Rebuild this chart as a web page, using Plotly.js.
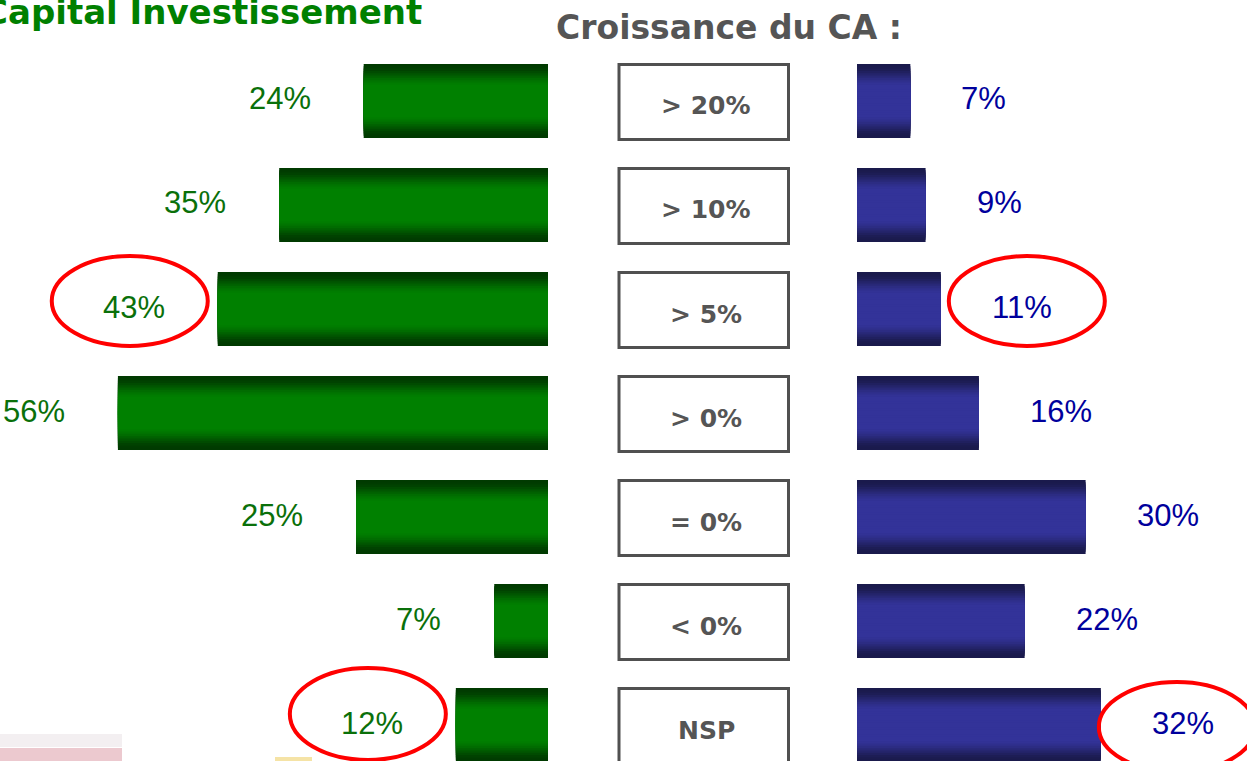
<!DOCTYPE html>
<html>
<head>
<meta charset="utf-8">
<script src="https://cdn.plot.ly/plotly-3.0.1.min.js"></script>
<style>
  html, body { margin: 0; padding: 0; background: #ffffff; overflow: hidden; }
  #chart { width: 1247px; height: 761px; }
</style>
</head>
<body>
<div id="chart"></div>
<script>
// ---- data ----
const categories = ['> 20%', '> 10%', '> 5%', '> 0%', '= 0%', '< 0%', 'NSP'];
const capitalInvestissement = [24, 35, 43, 56, 25, 7, 12];
const rightSeries = [7, 9, 11, 16, 30, 22, 32];
const leftLabels = capitalInvestissement.map(v => v + '%');
const rightLabels = rightSeries.map(v => v + '%');
const circledLeft = ['> 5%', 'NSP'];
const circledRight = ['> 5%', 'NSP'];
const chartTitle = 'Croissance du CA :';
const sideTitle = 'Capital Investissement';

// ---- styling ----
const W = 1247, H = 761;
const BAR_W = 0.712;
const LAYERS = 16;
function hex(c) { return [parseInt(c.slice(1,3),16), parseInt(c.slice(3,5),16), parseInt(c.slice(5,7),16)]; }
function mix(a, b, t) {
  const A = hex(a), B = hex(b);
  return 'rgb(' + A.map((v, i) => Math.round(v + (B[i] - v) * t)).join(',') + ')';
}
function smooth(t) { t = Math.max(0, Math.min(1, t)); return t * t * (3 - 2 * t); }

const traces = [];
function addGradientBars(values, xaxis, edge, center) {
  for (let k = 0; k < LAYERS; k++) {
    const frac = k / LAYERS;                // 0 = outer layer
    const w = BAR_W * (1 - frac);
    const t = smooth(frac / 0.58);
    traces.push({
      type: 'bar', orientation: 'h',
      x: values, y: categories,
      xaxis: xaxis, yaxis: 'y',
      width: values.map(() => w),
      marker: { color: mix(edge, center, t), line: { width: 0 } },
      hoverinfo: 'skip', showlegend: false
    });
  }
}
addGradientBars(capitalInvestissement, 'x', '#003a00', '#008000');
addGradientBars(rightSeries, 'x2', '#1a1a4c', '#333399');

function esc(s) { return s.replace(/&/g, '&amp;').replace(/</g, '&lt;').replace(/>/g, '&gt;'); }

const annotations = [];
const labelFont = 'Liberation Sans, Arial, sans-serif';
categories.forEach((c, i) => {
  annotations.push({
    x: capitalInvestissement[i], y: c, xref: 'x', yref: 'y',
    text: leftLabels[i], showarrow: false, xanchor: 'right', yanchor: 'middle',
    xshift: -51, yshift: 2,
    font: { family: labelFont, size: 31, color: '#0a700a' }
  });
  annotations.push({
    x: rightSeries[i], y: c, xref: 'x2', yref: 'y',
    text: rightLabels[i], showarrow: false, xanchor: 'left', yanchor: 'middle',
    xshift: 49, yshift: 2,
    font: { family: labelFont, size: 31, color: '#00009c' }
  });
  annotations.push({
    x: 706 / W, y: c, xref: 'paper', yref: 'y',
    text: '<b>' + esc(c) + '</b>', showarrow: false, xanchor: 'center', yanchor: 'middle',
    yshift: -5,
    font: { family: 'DejaVu Sans, Verdana, sans-serif', size: 25, color: '#555555' }
  });
});
annotations.push({
  x: 728.5 / W, y: 1 - 27 / H, xref: 'paper', yref: 'paper',
  text: '<b>' + chartTitle + '</b>', showarrow: false, xanchor: 'center', yanchor: 'middle',
  font: { family: 'DejaVu Sans, Verdana, sans-serif', size: 33, color: '#555555' }
});
annotations.push({
  x: -19 / W, y: 1 - 12 / H, xref: 'paper', yref: 'paper',
  text: '<b>' + sideTitle + '</b>', showarrow: false, xanchor: 'left', yanchor: 'middle',
  font: { family: 'DejaVu Sans, Verdana, sans-serif', size: 34, color: '#008000' }
});

const shapes = [];
// label boxes in the middle column
categories.forEach(c => {
  shapes.push({
    type: 'rect', xref: 'paper', yref: 'y', ysizemode: 'pixel', yanchor: c,
    x0: 619 / W, x1: 788.5 / W, y0: -38.5, y1: 36.5,
    line: { color: '#505050', width: 3 }, fillcolor: 'rgba(0,0,0,0)'
  });
});
// red ellipses around highlighted labels
const ellipseStyle = { color: '#ff0000', width: 4 };
circledLeft.forEach(c => {
  const i = categories.indexOf(c);
  const last = i === categories.length - 1;
  shapes.push({
    type: 'circle', xref: 'x', yref: 'y', xsizemode: 'pixel', ysizemode: 'pixel',
    xanchor: capitalInvestissement[i], yanchor: c,
    x0: -166, x1: -10, y0: last ? -35 : -37, y1: last ? 57 : 53,
    line: ellipseStyle
  });
});
circledRight.forEach(c => {
  const i = categories.indexOf(c);
  const last = i === categories.length - 1;
  shapes.push({
    type: 'circle', xref: 'x2', yref: 'y', xsizemode: 'pixel', ysizemode: 'pixel',
    xanchor: rightSeries[i], yanchor: c,
    x0: last ? -2 : 8, x1: last ? 154 : 164, y0: last ? -47 : -37, y1: last ? 43 : 53,
    line: ellipseStyle
  });
});
// faint remnants at the bottom edge of the original slide
shapes.push({ type: 'rect', xref: 'paper', yref: 'paper', x0: 0, x1: 122 / W, y0: 14 / H, y1: 27 / H,
  line: { width: 0 }, fillcolor: '#f3eff1', layer: 'below' });
shapes.push({ type: 'rect', xref: 'paper', yref: 'paper', x0: 0, x1: 122 / W, y0: 0, y1: 13 / H,
  line: { width: 0 }, fillcolor: '#ecc9cf', layer: 'below' });
shapes.push({ type: 'rect', xref: 'paper', yref: 'paper', x0: 275 / W, x1: 312 / W, y0: 0, y1: 4 / H,
  line: { width: 0 }, fillcolor: '#f5e3a6', layer: 'below' });

const layout = {
  width: W, height: H,
  margin: { l: 0, r: 0, t: 0, b: 0, pad: 0 },
  paper_bgcolor: '#ffffff', plot_bgcolor: 'rgba(0,0,0,0)',
  barmode: 'overlay',
  showlegend: false,
  hovermode: false,
  xaxis: { domain: [0, 548 / W], range: [548 / 7.68, 0], visible: false, fixedrange: true },
  xaxis2: { domain: [857 / W, 1], range: [0, 390 / 7.62], visible: false, fixedrange: true, anchor: 'y' },
  yaxis: { type: 'category', categoryorder: 'array', categoryarray: categories,
           range: [6.346, -0.971], visible: false, fixedrange: true },
  annotations: annotations,
  shapes: shapes
};

Plotly.newPlot('chart', traces, layout, { displayModeBar: false, staticPlot: true });
</script>
</body>
</html>
